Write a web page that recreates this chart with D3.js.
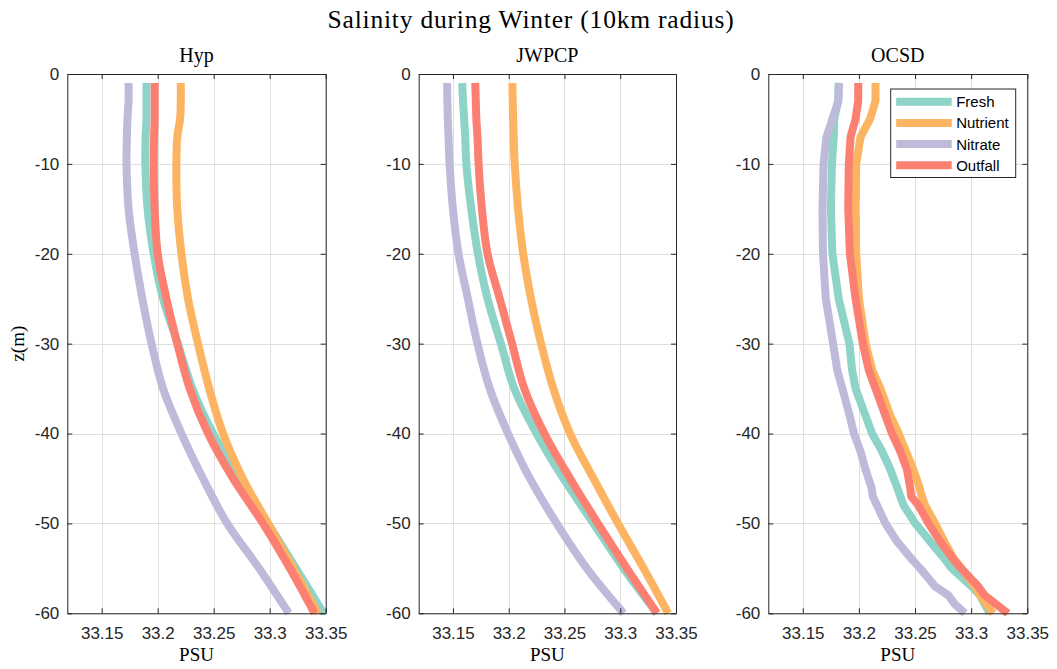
<!DOCTYPE html>
<html>
<head>
<meta charset="utf-8">
<script src="https://cdn.jsdelivr.net/npm/d3@7"></script>
<style>
  html, body { margin: 0; padding: 0; background: #ffffff; }
  svg { display: block; }
</style>
</head>
<body>
<svg id="chart" width="1057" height="669"></svg>
<script>
// ---------------- DATA ----------------
const figureTitle = "Salinity during Winter (10km radius)";
const panelNames = ["Hyp", "JWPCP", "OCSD"];
const seriesNames = ["Fresh", "Nutrient", "Nitrate", "Outfall"];
const seriesColors = ["#8dd3c7", "#fdb462", "#bebada", "#fb8072"];
const xTicks = [33.15, 33.2, 33.25, 33.3, 33.35];
const yTicks = [0, -10, -20, -30, -40, -50, -60];
const xDomain = [33.1193, 33.35];
const yDomain = [-60, 0];
const xLabel = "PSU";
const yLabel = "z(m)";

// depth levels (m)
const depths = [-1, -3, -5, -7, -10, -15, -20, -25, -30, -35, -40, -45, -50, -55, -60];
const depthsOCSD = [-1, -3, -5, -7, -10, -15, -20, -25, -30, -33, -35, -38, -40, -42, -44, -46, -47, -48, -50, -52, -54, -55, -57, -58, -59, -60];

// Hyp
const hypFresh    = [33.1900, 33.1900, 33.1900, 33.1892, 33.1890, 33.1910, 33.1964, 33.2048, 33.2180, 33.2310, 33.2495, 33.2730, 33.2985, 33.3235, 33.3480];
const hypNutrient = [33.2206, 33.2206, 33.2200, 33.2175, 33.2167, 33.2175, 33.2212, 33.2271, 33.2360, 33.2460, 33.2584, 33.2760, 33.2985, 33.3210, 33.3430];
const hypNitrate  = [33.1740, 33.1740, 33.1730, 33.1725, 33.1722, 33.1740, 33.1794, 33.1863, 33.1945, 33.2048, 33.2212, 33.2405, 33.2620, 33.2905, 33.3170];
const hypOutfall  = [33.1973, 33.1973, 33.1973, 33.1968, 33.1965, 33.1973, 33.2000, 33.2078, 33.2175, 33.2286, 33.2450, 33.2673, 33.2940, 33.3180, 33.3400];

// JWPCP
const jwpcpFresh    = [33.1583, 33.1590, 33.1600, 33.1610, 33.1620, 33.1664, 33.1724, 33.1810, 33.1930, 33.2050, 33.2250, 33.2490, 33.2760, 33.3030, 33.3330];
const jwpcpNutrient = [33.2033, 33.2036, 33.2040, 33.2045, 33.2054, 33.2084, 33.2130, 33.2200, 33.2290, 33.2400, 33.2550, 33.2760, 33.2980, 33.3210, 33.3430];
const jwpcpNitrate  = [33.1448, 33.1450, 33.1454, 33.1460, 33.1470, 33.1500, 33.1550, 33.1634, 33.1720, 33.1830, 33.1994, 33.2190, 33.2430, 33.2700, 33.3030];
const jwpcpOutfall  = [33.1700, 33.1705, 33.1710, 33.1720, 33.1730, 33.1760, 33.1810, 33.1920, 33.2030, 33.2140, 33.2320, 33.2550, 33.2800, 33.3060, 33.3330];

// OCSD
const ocsdFresh    = [33.1820, 33.1815, 33.1780, 33.1776, 33.1760, 33.1750, 33.1764, 33.1820, 33.1915, 33.1940, 33.1970, 33.2059, 33.2118, 33.2207, 33.2280, 33.2340, 33.2369, 33.2398, 33.2502, 33.2634, 33.2767, 33.2826, 33.3003, 33.3077, 33.3121, 33.3165];
const ocsdNutrient = [33.2148, 33.2148, 33.2100, 33.2015, 33.1976, 33.1970, 33.1976, 33.2000, 33.2060, 33.2120, 33.2192, 33.2280, 33.2354, 33.2420, 33.2485, 33.2540, 33.2560, 33.2590, 33.2678, 33.2760, 33.2850, 33.2914, 33.3033, 33.3080, 33.3135, 33.3195];
const ocsdNitrate  = [33.1823, 33.1817, 33.1764, 33.1711, 33.1685, 33.1676, 33.1680, 33.1705, 33.1770, 33.1808, 33.1853, 33.1917, 33.1956, 33.2015, 33.2059, 33.2112, 33.2124, 33.2162, 33.2236, 33.2339, 33.2472, 33.2546, 33.2679, 33.2797, 33.2856, 33.2944];
const ocsdOutfall  = [33.1994, 33.1994, 33.1970, 33.1926, 33.1910, 33.1905, 33.1920, 33.1970, 33.2035, 33.2089, 33.2148, 33.2236, 33.2295, 33.2369, 33.2428, 33.2457, 33.2466, 33.2531, 33.2620, 33.2723, 33.2841, 33.2910, 33.3062, 33.3121, 33.3224, 33.3327];

// ---------------- LAYOUT ----------------
const panelLayout = [
  { left: 67.3,  right: 325.7, depth: depths,     series: [hypFresh, hypNutrient, hypNitrate, hypOutfall], curve: d3.curveCatmullRom },
  { left: 418.7, right: 676.0, depth: depths,     series: [jwpcpFresh, jwpcpNutrient, jwpcpNitrate, jwpcpOutfall], curve: d3.curveCatmullRom },
  { left: 768.3, right: 1027.3, depth: depthsOCSD, series: [ocsdFresh, ocsdNutrient, ocsdNitrate, ocsdOutfall], curve: d3.curveLinear }
];
const plotTop = 74, plotBottom = 613.3;
const axisColor = "#262626";
const gridColor = "#dfdfdf";
const tickFont = "'Liberation Sans', Arial, Helvetica, sans-serif";
const serifFont = "'Liberation Serif', 'Times New Roman', serif";

const svg = d3.select("#chart");
svg.append("rect").attr("width", 1057).attr("height", 669).attr("fill", "#ffffff");

// figure title
svg.append("text")
  .attr("x", 531).attr("y", 28)
  .attr("text-anchor", "middle")
  .attr("font-family", serifFont)
  .attr("font-size", 25.5)
  .attr("letter-spacing", 0.8)
  .attr("fill", "#000")
  .text(figureTitle);

const y = d3.scaleLinear().domain(yDomain).range([plotBottom, plotTop]);

panelLayout.forEach((p, pi) => {
  const x = d3.scaleLinear().domain(xDomain).range([p.left, p.right]);
  const g = svg.append("g");
  const w = p.right - p.left, h = plotBottom - plotTop;

  // background
  g.append("rect").attr("x", p.left).attr("y", plotTop).attr("width", w).attr("height", h).attr("fill", "#fff");

  // grid
  g.append("g").selectAll("line").data(xTicks).join("line")
    .attr("x1", d => Math.round(x(d)) + 0.5).attr("x2", d => Math.round(x(d)) + 0.5)
    .attr("y1", plotTop).attr("y2", plotBottom)
    .attr("stroke", gridColor).attr("stroke-width", 1);
  g.append("g").selectAll("line").data(yTicks).join("line")
    .attr("y1", d => Math.round(y(d)) + 0.5).attr("y2", d => Math.round(y(d)) + 0.5)
    .attr("x1", p.left).attr("x2", p.right)
    .attr("stroke", gridColor).attr("stroke-width", 1);

  // lines
  const line = d3.line()
    .x(d => x(d[0]))
    .y(d => y(d[1]))
    .curve(p.curve);
  p.series.forEach((vals, si) => {
    const pts = vals.map((v, i) => [v, p.depth[i]]);
    g.append("path")
      .attr("d", line(pts))
      .attr("fill", "none")
      .attr("stroke", seriesColors[si])
      .attr("stroke-width", 8)
      .attr("stroke-linejoin", "round")
      .attr("stroke-linecap", "butt");
  });

  // axes
  const styleAxis = sel => {
    sel.selectAll("path.domain").attr("stroke", axisColor).attr("stroke-width", 1);
    sel.selectAll(".tick line").attr("stroke", axisColor).attr("stroke-width", 1);
    sel.selectAll(".tick text").attr("fill", axisColor).attr("font-family", tickFont).attr("font-size", 17);
  };
  g.append("g").attr("transform", `translate(0,${plotBottom})`)
    .call(d3.axisBottom(x).tickValues(xTicks).tickSizeInner(-5).tickSizeOuter(0).tickPadding(14).tickFormat(d => String(d)))
    .call(styleAxis);
  g.append("g").attr("transform", `translate(0,${plotTop})`)
    .call(d3.axisTop(x).tickValues(xTicks).tickSizeInner(-5).tickSizeOuter(0).tickFormat(() => ""))
    .call(styleAxis);
  g.append("g").attr("transform", `translate(${p.left},0)`)
    .call(d3.axisLeft(y).tickValues(yTicks).tickSizeInner(-5).tickSizeOuter(0).tickPadding(8).tickFormat(d => String(d)))
    .call(styleAxis);
  g.append("g").attr("transform", `translate(${p.right},0)`)
    .call(d3.axisRight(y).tickValues(yTicks).tickSizeInner(-5).tickSizeOuter(0).tickFormat(() => ""))
    .call(styleAxis);

  // panel title
  g.append("text")
    .attr("x", (p.left + p.right) / 2).attr("y", 62)
    .attr("text-anchor", "middle")
    .attr("font-family", serifFont).attr("font-size", 20)
    .attr("fill", "#000")
    .text(panelNames[pi]);

  // x label
  g.append("text")
    .attr("x", (p.left + p.right) / 2).attr("y", 661)
    .attr("text-anchor", "middle")
    .attr("font-family", serifFont).attr("font-size", 19)
    .attr("fill", "#000")
    .text(xLabel);

  if (pi === 0) {
    g.append("text")
      .attr("transform", `translate(24,${(plotTop + plotBottom) / 2}) rotate(-90)`)
      .attr("text-anchor", "middle")
      .attr("font-family", serifFont).attr("font-size", 19)
      .attr("fill", "#000")
      .text(yLabel);
  }

  // legend in last panel
  if (pi === 2) {
    const lx = p.right - 136.6, ly = plotTop + 15, lw = 125, lh = 88.5;
    const lg = g.append("g");
    lg.append("rect").attr("x", lx).attr("y", ly).attr("width", lw).attr("height", lh)
      .attr("fill", "#fff").attr("stroke", axisColor).attr("stroke-width", 1);
    seriesNames.forEach((name, i) => {
      const cy = ly + 12.7 + i * 21.2;
      lg.append("line")
        .attr("x1", lx + 5.5).attr("x2", lx + 61)
        .attr("y1", cy).attr("y2", cy)
        .attr("stroke", seriesColors[i]).attr("stroke-width", 8);
      lg.append("text")
        .attr("x", lx + 65.5).attr("y", cy)
        .attr("dominant-baseline", "central")
        .attr("font-family", tickFont).attr("font-size", 15)
        .attr("fill", "#000")
        .text(name);
    });
  }
});
</script>
</body>
</html>
